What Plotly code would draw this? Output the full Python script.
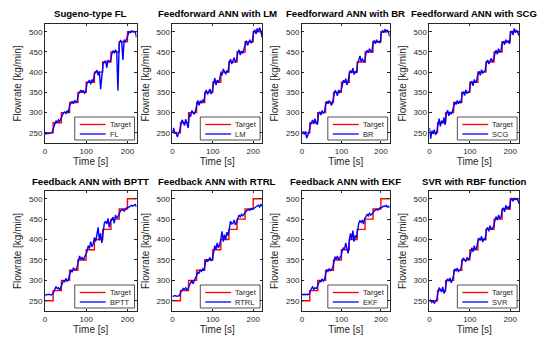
import plotly.graph_objects as go

# ---------------- data ----------------
time_s = list(range(0, 223, 3))  # sample times 0..222 s

target_t = [0, 20, 40, 60, 80, 100, 120, 140, 160, 180, 200, 222]
target_v = [250, 275, 300, 325, 350, 375, 400, 425, 450, 475, 500, 500]

fl = [248, 248, 249, 248, 249, 250, 252,
      262, 270, 280, 275, 282, 278, 285,
      295, 300, 302, 298, 305, 300,
      318, 325, 328, 322, 330, 326, 328,
      345, 352, 356, 350, 355, 348, 352,
      372, 378, 380, 370, 382, 376,
      395, 400, 405, 392, 402, 358, 398,
      420, 425, 428, 411, 430, 426, 428,
      445, 452, 448, 455, 450, 354,
      470, 478, 476, 430, 480, 476, 482,
      495, 500, 498, 502, 500, 501, 500, 486]

lm = [250, 262, 248, 252, 240, 246, 255,
      270, 282, 276, 268, 284, 272, 262,
      298, 290, 305, 300, 296, 304,
      322, 330, 318, 328, 325, 332, 326,
      348, 356, 345, 352, 358, 346, 354,
      372, 385, 368, 380, 376, 382,
      398, 392, 408, 400, 395, 404, 400,
      426, 432, 420, 428, 436, 424, 430,
      448, 455, 442, 452, 446, 456,
      470, 478, 466, 475, 480, 472, 476,
      498, 505, 494, 508, 500, 510, 502, 486]

br = [248, 252, 246, 254, 237, 244, 252,
      268, 278, 282, 272, 285, 276, 270,
      296, 302, 294, 305, 298, 302,
      320, 328, 322, 330, 324, 318, 328,
      346, 355, 350, 342, 356, 350, 354,
      370, 380, 374, 384, 368, 378,
      396, 404, 398, 410, 394, 402, 398,
      422, 430, 440, 426, 432, 428, 424,
      446, 454, 448, 458, 452, 450,
      472, 478, 470, 480, 474, 476, 472,
      496, 502, 498, 506, 500, 504, 500, 488]

scg = [262, 236, 255, 248, 258, 245, 252,
       272, 285, 266, 280, 274, 288, 270,
       298, 306, 292, 302, 296, 304,
       318, 326, 320, 330, 322, 328, 324,
       346, 352, 342, 356, 348, 350, 354,
       372, 378, 366, 382, 374, 380,
       396, 402, 392, 406, 398, 400, 404,
       424, 430, 420, 428, 434, 426, 432,
       446, 454, 444, 458, 450, 452,
       472, 476, 468, 480, 474, 478, 470,
       496, 502, 492, 508, 498, 504, 496, 490]

bptt = [265, 264, 265, 266, 265, 264, 266,
        270, 278, 285, 280, 282, 276, 284,
        290, 300, 296, 305, 298, 302,
        315, 325, 320, 330, 328, 326, 332,
        345, 360, 352, 356, 350, 358, 362,
        370, 385, 378, 395, 382, 390,
        405, 395, 420, 430, 398, 415, 392,
        420, 440, 445, 438, 452, 430, 445,
        448, 455, 440, 460, 452, 456,
        465, 470, 472, 474, 470, 476, 478,
        478, 480, 482, 484, 482, 484, 486, 480]

rtrl = [262, 261, 263, 262, 261, 262, 263,
        272, 276, 280, 278, 282, 276, 280,
        288, 296, 300, 292, 298, 302,
        312, 320, 318, 326, 322, 328, 324,
        340, 352, 346, 350, 356, 348, 352,
        368, 385, 376, 392, 380, 388,
        402, 420, 395, 412, 400, 418, 410,
        432, 445, 438, 440, 448, 436, 442,
        452, 460, 456, 462, 458, 462,
        468, 470, 472, 474, 472, 476, 474,
        476, 478, 480, 482, 484, 480, 486, 482]

ekf = [266, 265, 266, 265, 266, 265, 266,
       274, 280, 284, 278, 282, 280, 284,
       290, 300, 296, 304, 298, 302,
       316, 326, 322, 328, 324, 326, 330,
       345, 358, 352, 360, 350, 356, 360,
       372, 380, 376, 392, 378, 366,
       398, 415, 400, 422, 395, 410, 404,
       430, 440, 446, 442, 448, 438, 452,
       455, 462, 458, 464, 460, 462,
       468, 470, 472, 474, 472, 476, 478,
       478, 480, 482, 481, 484, 480, 482, 478]

svr = [248, 252, 246, 250, 244, 248, 252,
       270, 282, 278, 272, 284, 268, 274,
       296, 304, 298, 306, 294, 302,
       320, 328, 324, 330, 322, 326, 328,
       348, 355, 350, 346, 356, 352, 354,
       372, 380, 370, 385, 376, 380,
       396, 404, 398, 408, 394, 402, 400,
       424, 430, 420, 434, 426, 428, 432,
       446, 456, 448, 460, 452, 454,
       472, 478, 468, 484, 476, 480, 474,
       496, 500, 494, 502, 498, 500, 496, 488]

titles = ["Sugeno-type FL", "Feedforward ANN with LM", "Feedforward ANN with BR",
          "Feedforward ANN with SCG", "Feedback ANN with BPTT", "Feedback ANN with RTRL",
          "Feedback ANN with EKF", "SVR with RBF function"]
model_names = ["FL", "LM", "BR", "SCG", "BPTT", "RTRL", "EKF", "SVR"]
model_series = [fl, lm, br, scg, bptt, rtrl, ekf, svr]

x_ticks = [0, 100, 200]
y_ticks = [250, 300, 350, 400, 450, 500]

# ---------------- layout geometry ----------------
# The page body has an 8px default margin, so the figure is drawn 8px
# smaller and all reference pixel positions are shifted by that offset.
OFF = 8
W, H = 550 - OFF, 349 - OFF
col_px = [(43, 135), (171, 261), (301, 389), (429, 519)]
row_px = [(24, 143), (191, 311)]

FONT = "Liberation Sans, Arial, sans-serif"
AX_COLOR = "#262626"
RED = "#ff0000"
BLUE = "#0000ff"

def px(x):
    return (x - OFF) / W

def py(y):
    return 1 - (y - OFF) / H

fig = go.Figure()
layout = dict(
    width=W, height=H,
    margin=dict(l=0, r=0, t=0, b=0),
    paper_bgcolor="white", plot_bgcolor="white",
    font=dict(family=FONT, size=8, color=AX_COLOR),
    showlegend=False,
    annotations=[], shapes=[],
)

for i in range(8):
    r, c = divmod(i, 4)
    n = i + 1
    xa = "x" if n == 1 else f"x{n}"
    ya = "y" if n == 1 else f"y{n}"
    x0, x1 = col_px[c]
    y0, y1 = row_px[r]

    fig.add_trace(go.Scatter(x=target_t, y=target_v, mode="lines", line_shape="hv",
                             line=dict(color=RED, width=1.4), name="Target",
                             xaxis=xa, yaxis=ya))
    fig.add_trace(go.Scatter(x=time_s, y=model_series[i], mode="lines",
                             line=dict(color=BLUE, width=1.4), name=model_names[i],
                             xaxis=xa, yaxis=ya))

    xkey = "xaxis" if n == 1 else f"xaxis{n}"
    ykey = "yaxis" if n == 1 else f"yaxis{n}"
    layout[xkey] = dict(domain=[px(x0), px(x1)], anchor=ya, range=[0, 222], tickvals=x_ticks,
                        showline=True, mirror="ticks", linecolor=AX_COLOR, linewidth=0.8,
                        ticks="inside", ticklen=2.5, tickcolor=AX_COLOR, showgrid=False,
                        zeroline=False, tickfont=dict(size=8, color=AX_COLOR),
                        title=dict(text="Time [s]", font=dict(size=10, color=AX_COLOR), standoff=1))
    layout[ykey] = dict(domain=[py(y1), py(y0)], anchor=xa, range=[225, 519], tickvals=y_ticks,
                        showline=True, mirror="ticks", linecolor=AX_COLOR, linewidth=0.8,
                        ticks="inside", ticklen=2.5, tickcolor=AX_COLOR, showgrid=False,
                        zeroline=False, tickfont=dict(size=8, color=AX_COLOR),
                        title=dict(text="Flowrate [kg/min]", font=dict(size=10, color=AX_COLOR), standoff=5))

    # subplot title
    layout["annotations"].append(dict(
        text=f"<b>{titles[i]}</b>", xref="paper", yref="paper",
        x=px((x0 + x1) / 2), y=py(y0 - 10), xanchor="center", yanchor="middle",
        showarrow=False, font=dict(size=9.6, color="black", family=FONT)))

    # legend box (drawn by hand, MATLAB style)
    bl, br_ = x1 - 62, x1 - 2
    bt, bb = y1 - 26, y1 - 3
    layout["shapes"].append(dict(type="rect", xref="paper", yref="paper",
                                 x0=px(bl), x1=px(br_), y0=py(bb), y1=py(bt),
                                 line=dict(color=AX_COLOR, width=0.8), fillcolor="white", layer="above"))
    for k, (lab, col) in enumerate([("Target", RED), (model_names[i], BLUE)]):
        yy = bt + 7.5 + k * 9.5
        layout["shapes"].append(dict(type="line", xref="paper", yref="paper",
                                     x0=px(bl + 5), x1=px(bl + 31), y0=py(yy), y1=py(yy),
                                     line=dict(color=col, width=1.3), layer="above"))
        layout["annotations"].append(dict(
            text=lab, xref="paper", yref="paper", x=px(bl + 33), y=py(yy),
            xanchor="left", yanchor="middle", showarrow=False,
            font=dict(size=7.5, color=AX_COLOR, family=FONT)))

fig.update_layout(**layout)
fig.write_html("out.html")
